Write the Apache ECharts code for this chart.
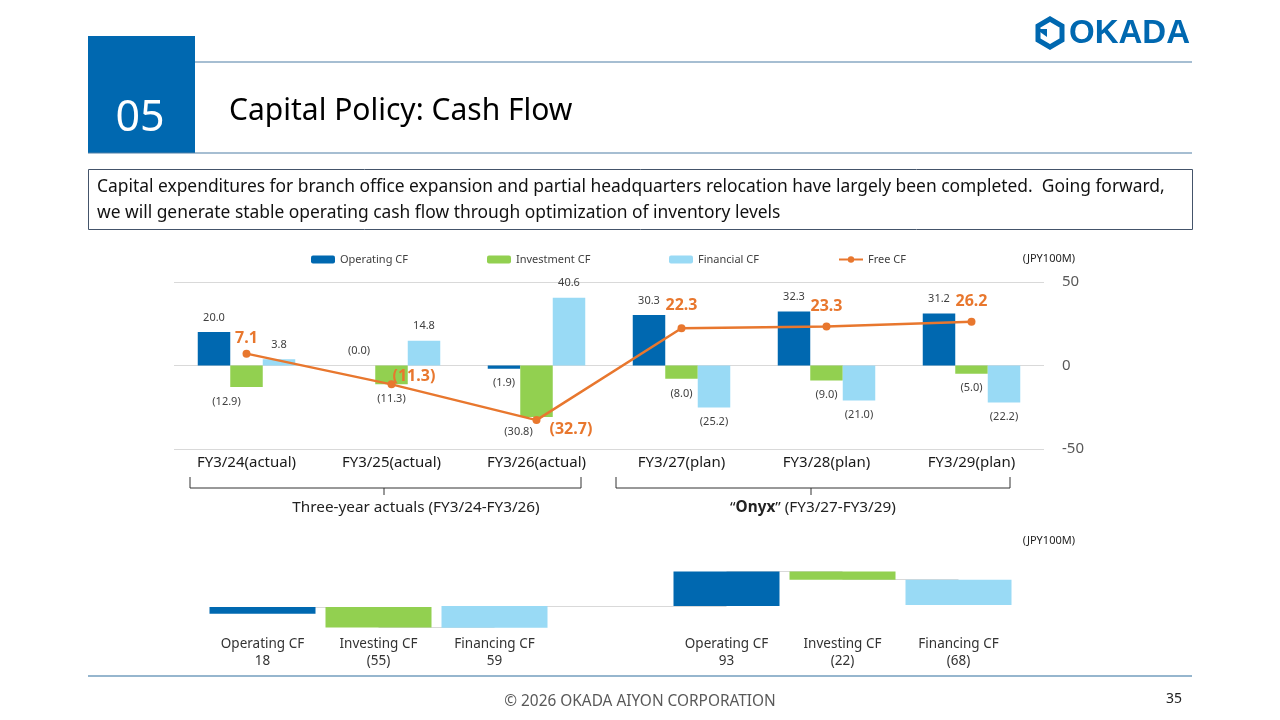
<!DOCTYPE html>
<html>
<head>
<meta charset="utf-8">
<script src="https://cdn.jsdelivr.net/npm/echarts@6/dist/echarts.min.js"></script>
<style>
  html, body { margin: 0; padding: 0; background: #fff; }
  #chart { width: 1280px; height: 720px; }
</style>
</head>
<body>
<div id="chart"></div>
<script>
// --- data (JPY100M) ---
const years = ['FY3/24(actual)', 'FY3/25(actual)', 'FY3/26(actual)', 'FY3/27(plan)', 'FY3/28(plan)', 'FY3/29(plan)'];
const operatingCF = [20.0, -0.04, -1.9, 30.3, 32.3, 31.2];
const investmentCF = [-12.9, -11.3, -30.8, -8.0, -9.0, -5.0];
const financialCF = [3.8, 14.8, 40.6, -25.2, -21.0, -22.2];
const freeCF = [7.1, -11.3, -32.7, 22.3, 23.3, 26.2];
const yMin = -50, yMax = 50, yStep = 50;

// three-year totals, drawn as a waterfall
const flowNames = ['Operating CF', 'Investing CF', 'Financing CF', '', 'Operating CF', 'Investing CF', 'Financing CF'];
const flowValues = [18, -55, 59, null, 93, -22, -68];
const flowStart = [-21, -3, -59, null, 0, 93, 71];

const C_OP = '#0068B0', C_INV = '#92D050', C_FIN = '#99DAF5', C_FREE = '#E8772E';
const FONT = '"Noto Sans", "Open Sans", sans-serif';

const fmt1 = v => v < 0 ? '(' + Math.abs(v).toFixed(1) + ')' : v.toFixed(1);
const fmt0 = v => v < 0 ? '(' + Math.abs(v) + ')' : String(v);

function barData(arr, shifts) {
  return arr.map((v, i) => ({
    value: v,
    label: {
      position: v <= -0.5 ? 'bottom' : 'top',
      offset: [(shifts && shifts[i]) || 0, 0]
    }
  }));
}

const freeLabel = [
  { position: 'top', distance: 3 },
  { position: 'right', distance: 0, offset: [-3, -8] },
  { position: 'right', distance: 9, offset: [0, 9] },
  { position: 'top', distance: 11 },
  { position: 'top', distance: 8 },
  { position: 'top', distance: 8 }
];

// waterfall connectors: end of one bar to the next non-empty bar
const connectors = [];
for (let i = 0; i < flowValues.length - 1; i++) {
  if (flowValues[i] == null) continue;
  let j = i + 1;
  while (j < flowValues.length && flowValues[j] == null) j++;
  if (j >= flowValues.length) break;
  const lvl = flowStart[i] + flowValues[i];
  connectors.push([{ coord: [i, lvl] }, { coord: [j, lvl] }]);
}

const barLabel = { show: true, fontSize: 11, color: '#404040', fontFamily: FONT, distance: 9, formatter: p => fmt1(p.value) };
const legendBase = { top: 249, itemWidth: 24, itemHeight: 8, itemGap: 0, textStyle: { fontSize: 11, color: '#404040', fontFamily: FONT } };

const chart = echarts.init(document.getElementById('chart'));
chart.setOption({
  animation: false,
  textStyle: { fontFamily: FONT },
  legend: [
    Object.assign({ left: 306, data: ['Operating CF'] }, legendBase),
    Object.assign({ left: 482, data: ['Investment CF'] }, legendBase),
    Object.assign({ left: 664, data: ['Financial CF'] }, legendBase),
    Object.assign({ left: 833, data: ['Free CF'] }, legendBase)
  ],
  grid: [
    { left: 174, width: 870, top: 282, height: 167 },
    { left: 204.5, width: 812, top: 569, height: 59.2 }
  ],
  xAxis: [
    {
      type: 'category', gridIndex: 0, data: years,
      axisLine: { show: false }, axisTick: { show: false },
      axisLabel: { fontSize: 15, color: '#1a1a1a', margin: 6 }
    },
    {
      type: 'category', gridIndex: 1, data: flowNames,
      axisLine: { show: false }, axisTick: { show: false },
      axisLabel: {
        fontSize: 13.5, color: '#333', margin: 7, lineHeight: 17, interval: 0,
        formatter: (v, i) => v ? v + '\n' + fmt0(flowValues[i]) : ''
      }
    }
  ],
  yAxis: [
    {
      type: 'value', gridIndex: 0, position: 'right', min: yMin, max: yMax, interval: yStep,
      axisLine: { show: false }, axisTick: { show: false },
      splitLine: { lineStyle: { color: '#D9D9D9', width: 1 } },
      axisLabel: { fontSize: 15, color: '#595959', margin: 18 }
    },
    { type: 'value', gridIndex: 1, min: -60, max: 100, show: false, splitLine: { show: false } }
  ],
  series: [
    {
      name: 'Operating CF', type: 'bar', barWidth: 32.5, barGap: '0%',
      itemStyle: { color: C_OP }, label: barLabel,
      data: barData(operatingCF)
    },
    {
      name: 'Investment CF', type: 'bar', barWidth: 32.5, barGap: '0%',
      itemStyle: { color: C_INV }, label: barLabel,
      data: barData(investmentCF, { 0: -20, 2: -18 })
    },
    {
      name: 'Financial CF', type: 'bar', barWidth: 32.5, barGap: '0%',
      itemStyle: { color: C_FIN }, label: barLabel,
      data: barData(financialCF)
    },
    {
      name: 'Free CF', type: 'line', z: 5,
      symbol: 'circle', symbolSize: 8,
      lineStyle: { color: C_FREE, width: 2.5 },
      itemStyle: { color: C_FREE },
      label: { show: true, fontSize: 16, fontWeight: 'bold', color: C_FREE, formatter: p => fmt1(p.value) },
      data: freeCF.map((v, i) => ({ value: v, label: freeLabel[i] }))
    },
    {
      type: 'bar', xAxisIndex: 1, yAxisIndex: 1, stack: 'wf', stackStrategy: 'all',
      barWidth: 106, itemStyle: { color: 'transparent' }, silent: true, z: 1,
      markLine: {
        z: 1, symbol: 'none', silent: true, label: { show: false },
        lineStyle: { color: '#D9D9D9', width: 1, type: 'solid' },
        data: connectors
      },
      data: flowStart
    },
    {
      type: 'bar', xAxisIndex: 1, yAxisIndex: 1, stack: 'wf', stackStrategy: 'all',
      barWidth: 106, z: 4,
      itemStyle: { color: p => [C_OP, C_INV, C_FIN][p.dataIndex % 4 % 3] },
      data: flowValues
    }
  ],
  graphic: [
    // header
    { type: 'rect', shape: { x: 88, y: 36, width: 107, height: 117 }, style: { fill: '#0068B0' } },
    { type: 'text', x: 140, y: 119, style: { text: '05', fill: '#fff', font: '43px ' + FONT, align: 'center', verticalAlign: 'middle' } },
    { type: 'line', shape: { x1: 195, y1: 62, x2: 1192, y2: 62 }, style: { stroke: '#4F7FA5', lineWidth: 1.2 } },
    { type: 'line', shape: { x1: 88, y1: 153, x2: 1192, y2: 153 }, style: { stroke: '#4F7FA5', lineWidth: 1.2 } },
    { type: 'text', x: 229, y: 111, style: { text: 'Capital Policy: Cash Flow', fill: '#000', font: '30px ' + FONT, verticalAlign: 'middle' } },
    // logo
    { type: 'polygon', shape: { points: [[1050, 19], [1062, 26], [1062, 40], [1050, 47], [1038, 40], [1038, 26]] }, style: { fill: 'none', stroke: '#0068B0', lineWidth: 5 } },
    { type: 'polygon', shape: { points: [[1036, 29], [1047, 29], [1047, 37]] }, style: { fill: '#0068B0' } },
    { type: 'text', x: 1069, y: 34, style: { text: 'OKADA', fill: '#0068B0', font: 'bold 33px "Liberation Sans", Arial, sans-serif', verticalAlign: 'middle' } },
    // message box
    { type: 'rect', shape: { x: 88.5, y: 169.5, width: 1104, height: 60 }, style: { fill: '#fff', stroke: '#44546A', lineWidth: 1 } },
    { type: 'text', x: 97, y: 187, style: { text: 'Capital expenditures for branch office expansion and partial headquarters relocation have largely been completed.  Going forward,', fill: '#111', font: '17.4px ' + FONT, verticalAlign: 'middle' } },
    { type: 'text', x: 97, y: 213, style: { text: 'we will generate stable operating cash flow through optimization of inventory levels', fill: '#111', font: '17.4px ' + FONT, verticalAlign: 'middle' } },
    // units
    { type: 'text', x: 1075, y: 259, style: { text: '(JPY100M)', fill: '#222', font: '11px ' + FONT, align: 'right', verticalAlign: 'middle' } },
    { type: 'text', x: 1075, y: 541, style: { text: '(JPY100M)', fill: '#222', font: '11px ' + FONT, align: 'right', verticalAlign: 'middle' } },
    // braces
    { type: 'polyline', shape: { points: [[190, 477], [190, 488], [581, 488], [581, 477]] }, style: { stroke: '#333', lineWidth: 1, fill: 'none' } },
    { type: 'line', shape: { x1: 384, y1: 488, x2: 384, y2: 495 }, style: { stroke: '#333', lineWidth: 1 } },
    { type: 'polyline', shape: { points: [[616, 477], [616, 488], [1010, 488], [1010, 477]] }, style: { stroke: '#333', lineWidth: 1, fill: 'none' } },
    { type: 'line', shape: { x1: 811, y1: 488, x2: 811, y2: 495 }, style: { stroke: '#333', lineWidth: 1 } },
    { type: 'text', x: 416, y: 508, style: { text: 'Three-year actuals (FY3/24-FY3/26)', fill: '#222', font: '15.3px ' + FONT, align: 'center', verticalAlign: 'middle' } },
    {
      type: 'text', x: 813, y: 508,
      style: {
        text: '\u201C{b|Onyx}\u201D (FY3/27-FY3/29)', fill: '#222', font: '15.3px ' + FONT, align: 'center', verticalAlign: 'middle',
        rich: { b: { fontWeight: 'bold', fontSize: 15.3, fill: '#222', fontFamily: FONT } }
      }
    },
    // footer
    { type: 'line', shape: { x1: 88, y1: 676, x2: 1192, y2: 676 }, style: { stroke: '#2E6E9E', lineWidth: 1.2 } },
    { type: 'text', x: 640, y: 702, style: { text: '\u00A9 2026 OKADA AIYON CORPORATION', fill: '#595959', font: '15.4px ' + FONT, align: 'center', verticalAlign: 'middle' } },
    { type: 'text', x: 1174, y: 699, style: { text: '35', fill: '#222', font: '14px ' + FONT, align: 'center', verticalAlign: 'middle' } }
  ]
});
</script>
</body>
</html>
